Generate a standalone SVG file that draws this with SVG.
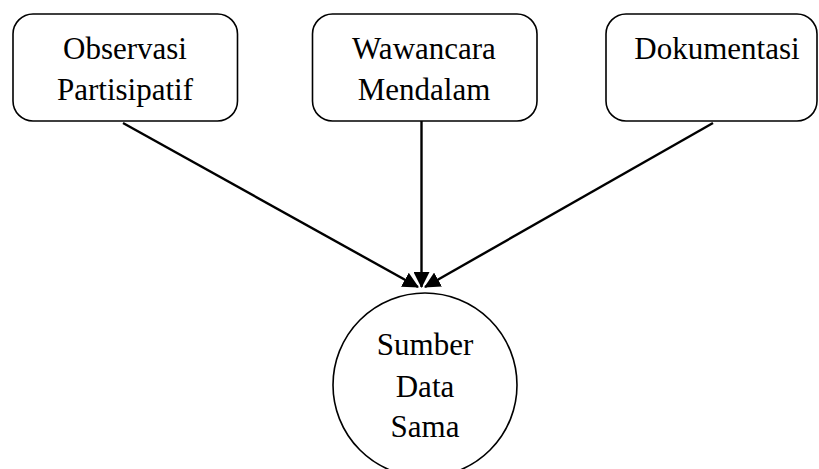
<svg xmlns="http://www.w3.org/2000/svg" width="819" height="469" viewBox="0 0 819 469">
<defs>
<style>
.box{fill:#fff;stroke:#000;stroke-width:1.6}
.t{font-family:"Liberation Serif","Times New Roman",serif;font-size:31px;fill:#000;text-anchor:middle}
.c{stroke:#000;stroke-width:2.4;fill:none}
</style>
<marker id="ah" markerWidth="16" markerHeight="16" viewBox="0 0 16 16" refX="15" refY="8" orient="auto" markerUnits="userSpaceOnUse">
<path d="M0,0 L16,8 L0,16 Z" fill="#000"/>
</marker>
</defs>
<rect width="819" height="469" fill="#fff"/>
<g id="connectors">
<line class="c" x1="123" y1="123" x2="418" y2="287" marker-end="url(#ah)"/>
<line class="c" x1="421.5" y1="121" x2="421.5" y2="287" marker-end="url(#ah)"/>
<line class="c" x1="713" y1="123" x2="425" y2="287" marker-end="url(#ah)"/>
</g>
<g id="observasi">
<rect class="box" x="13" y="14" width="224.5" height="107" rx="20"/>
<text class="t" x="125" y="59">Observasi</text>
<text class="t" x="125" y="100">Partisipatif</text>
</g>
<g id="wawancara">
<rect class="box" x="312.5" y="14" width="224.5" height="107" rx="20"/>
<text class="t" x="424" y="59">Wawancara</text>
<text class="t" x="424" y="100">Mendalam</text>
</g>
<g id="dokumentasi">
<rect class="box" x="606" y="14" width="211" height="107" rx="20"/>
<text class="t" x="717" y="59">Dokumentasi</text>
</g>
<g id="sumber">
<circle class="box" cx="425" cy="385" r="92"/>
<text class="t" x="425" y="355">Sumber</text>
<text class="t" x="425" y="397">Data</text>
<text class="t" x="425" y="437">Sama</text>
</g>
</svg>
